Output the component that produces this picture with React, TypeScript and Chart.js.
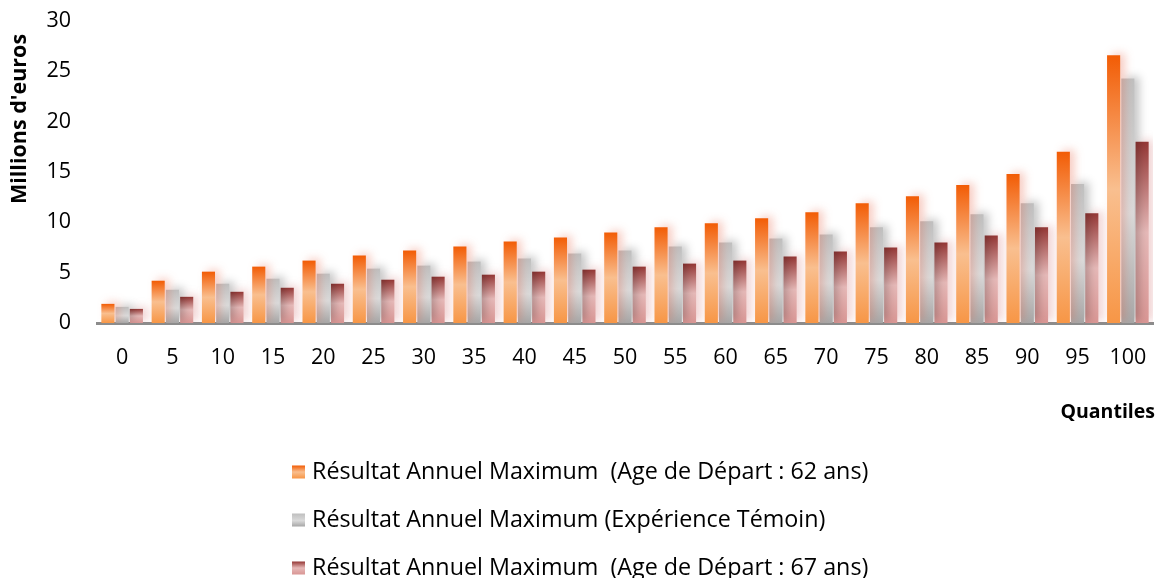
import React, { useEffect, useRef } from "react";
import { Chart, registerables } from "chart.js";

Chart.register(...registerables);

const categories = ["0", "5", "10", "15", "20", "25", "30", "35", "40", "45", "50", "55", "60", "65", "70", "75", "80", "85", "90", "95", "100"];
const age62 = [1.9, 4.2, 5.1, 5.6, 6.2, 6.7, 7.2, 7.6, 8.1, 8.5, 9.0, 9.5, 9.9, 10.4, 11.0, 11.9, 12.6, 13.7, 14.8, 17.0, 26.6];
const temoin = [1.6, 3.3, 3.9, 4.4, 4.9, 5.4, 5.7, 6.1, 6.4, 6.9, 7.2, 7.6, 8.0, 8.4, 8.8, 9.5, 10.1, 10.8, 11.9, 13.8, 24.3];
const age67 = [1.4, 2.6, 3.1, 3.5, 3.9, 4.3, 4.6, 4.8, 5.1, 5.3, 5.6, 5.9, 6.2, 6.6, 7.1, 7.5, 8.0, 8.7, 9.5, 10.9, 18.0];
const seriesLabels = [
  "Résultat Annuel Maximum  (Age de Départ : 62 ans)",
  "Résultat Annuel Maximum (Expérience Témoin)",
  "Résultat Annuel Maximum  (Age de Départ : 67 ans)",
];
const yTitle = "Millions d'euros";
const xTitle = "Quantiles";

const FONT = "Open Sans";

const gradStops: [number, string][][] = [
  [[0, "#F25C05"], [0.5, "#F9BF8F"], [1, "#F79646"]],
  [[0, "#BFBFBF"], [0.55, "#DADADA"], [1, "#A6A6A6"]],
  [[0, "#953735"], [0.5, "#E6B9B8"], [1, "#D99694"]],
];
const shadowColors = ["rgba(230,90,60,0.3)", "rgba(0,0,0,0.22)", "rgba(200,80,80,0.25)"];

function makeGrad(ctx: CanvasRenderingContext2D, top: number, bottom: number, idx: number) {
  const g = ctx.createLinearGradient(0, top, 0, bottom);
  for (const [o, c] of gradStops[idx]) g.addColorStop(o, c);
  return g;
}

function barColor(idx: number) {
  return (context: any) => {
    const chart = context.chart;
    const yScale = chart.scales && chart.scales.y;
    if (!yScale || context.type !== "data") return gradStops[idx][1][1];
    const v = context.raw as number;
    const top = yScale.getPixelForValue(v);
    const bottom = yScale.getPixelForValue(0);
    if (!isFinite(top) || !isFinite(bottom) || bottom - top < 0.5) return gradStops[idx][1][1];
    return makeGrad(chart.ctx, top, bottom, idx);
  };
}

const shadowPlugin = {
  id: "barShadow",
  beforeDatasetDraw(chart: any, args: any) {
    const ctx = chart.ctx;
    ctx.save();
    ctx.shadowColor = shadowColors[args.index];
    ctx.shadowBlur = 8;
    ctx.shadowOffsetX = 5;
    ctx.shadowOffsetY = -2;
  },
  afterDatasetDraw(chart: any) {
    chart.ctx.restore();
  },
};

const textPlugin = {
  id: "customText",
  afterDraw(chart: any) {
    const ctx: CanvasRenderingContext2D = chart.ctx;
    ctx.save();
    ctx.fillStyle = "#000";
    ctx.font = `bold 21.5px "${FONT}"`;
    ctx.textAlign = "center";
    ctx.textBaseline = "middle";
    ctx.translate(20, 119);
    ctx.rotate(-Math.PI / 2);
    ctx.fillText(yTitle, 0, 0);
    ctx.restore();

    ctx.save();
    ctx.fillStyle = "#000";
    ctx.font = `bold 19.5px "${FONT}"`;
    ctx.textAlign = "right";
    ctx.textBaseline = "middle";
    ctx.fillText(xTitle, 1155, 412);

    const rows = [472, 520, 568];
    ctx.font = `23.3px "${FONT}"`;
    ctx.textAlign = "left";
    for (let i = 0; i < 3; i++) {
      const y = rows[i];
      ctx.fillStyle = makeGrad(ctx, y - 6.5, y + 6.5, i);
      ctx.fillRect(292, y - 6.5, 13, 13);
      ctx.fillStyle = "#000";
      ctx.fillText(seriesLabels[i], 312, y);
    }
    ctx.restore();
  },
};

export default function App() {
  const ref = useRef<HTMLCanvasElement>(null);
  useEffect(() => {
    if (!ref.current) return;
    const chart = new Chart(ref.current, {
      type: "bar",
      data: {
        labels: categories,
        datasets: [
          { label: seriesLabels[0], data: age62, backgroundColor: barColor(0) },
          { label: seriesLabels[1], data: temoin, backgroundColor: barColor(1) },
          { label: seriesLabels[2], data: age67, backgroundColor: barColor(2) },
        ],
      },
      options: {
        animation: false,
        responsive: false,
        maintainAspectRatio: false,
        layout: { padding: { left: 0, right: 9, top: 21, bottom: 0 } },
        datasets: { bar: { categoryPercentage: 0.85, barPercentage: 0.92 } },
        plugins: { legend: { display: false }, tooltip: { enabled: false } },
        scales: {
          x: {
            grid: { display: false, drawTicks: false },
            border: { display: true, color: "#8C8C8C", width: 3 },
            ticks: { color: "#000", font: { family: FONT, size: 21.5 }, padding: 22, maxRotation: 0, autoSkip: false },
            afterFit: (s: any) => { s.height = 255; s.paddingLeft = 0; s.paddingRight = 0; },
          },
          y: {
            min: 0,
            max: 30,
            grid: { display: false, drawTicks: false },
            border: { display: false },
            ticks: { stepSize: 5, color: "#000", font: { family: FONT, size: 21.5 }, padding: 26 },
            afterFit: (s: any) => { s.width = 97; s.paddingTop = 0; s.paddingBottom = 0; },
          },
        },
      },
      plugins: [shadowPlugin, textPlugin],
    });
    return () => chart.destroy();
  }, []);
  return (
    <div style={{ position: "absolute", left: 0, top: 0, width: 1162, height: 578 }}>
      <canvas ref={ref} width={1162} height={578} />
    </div>
  );
}
